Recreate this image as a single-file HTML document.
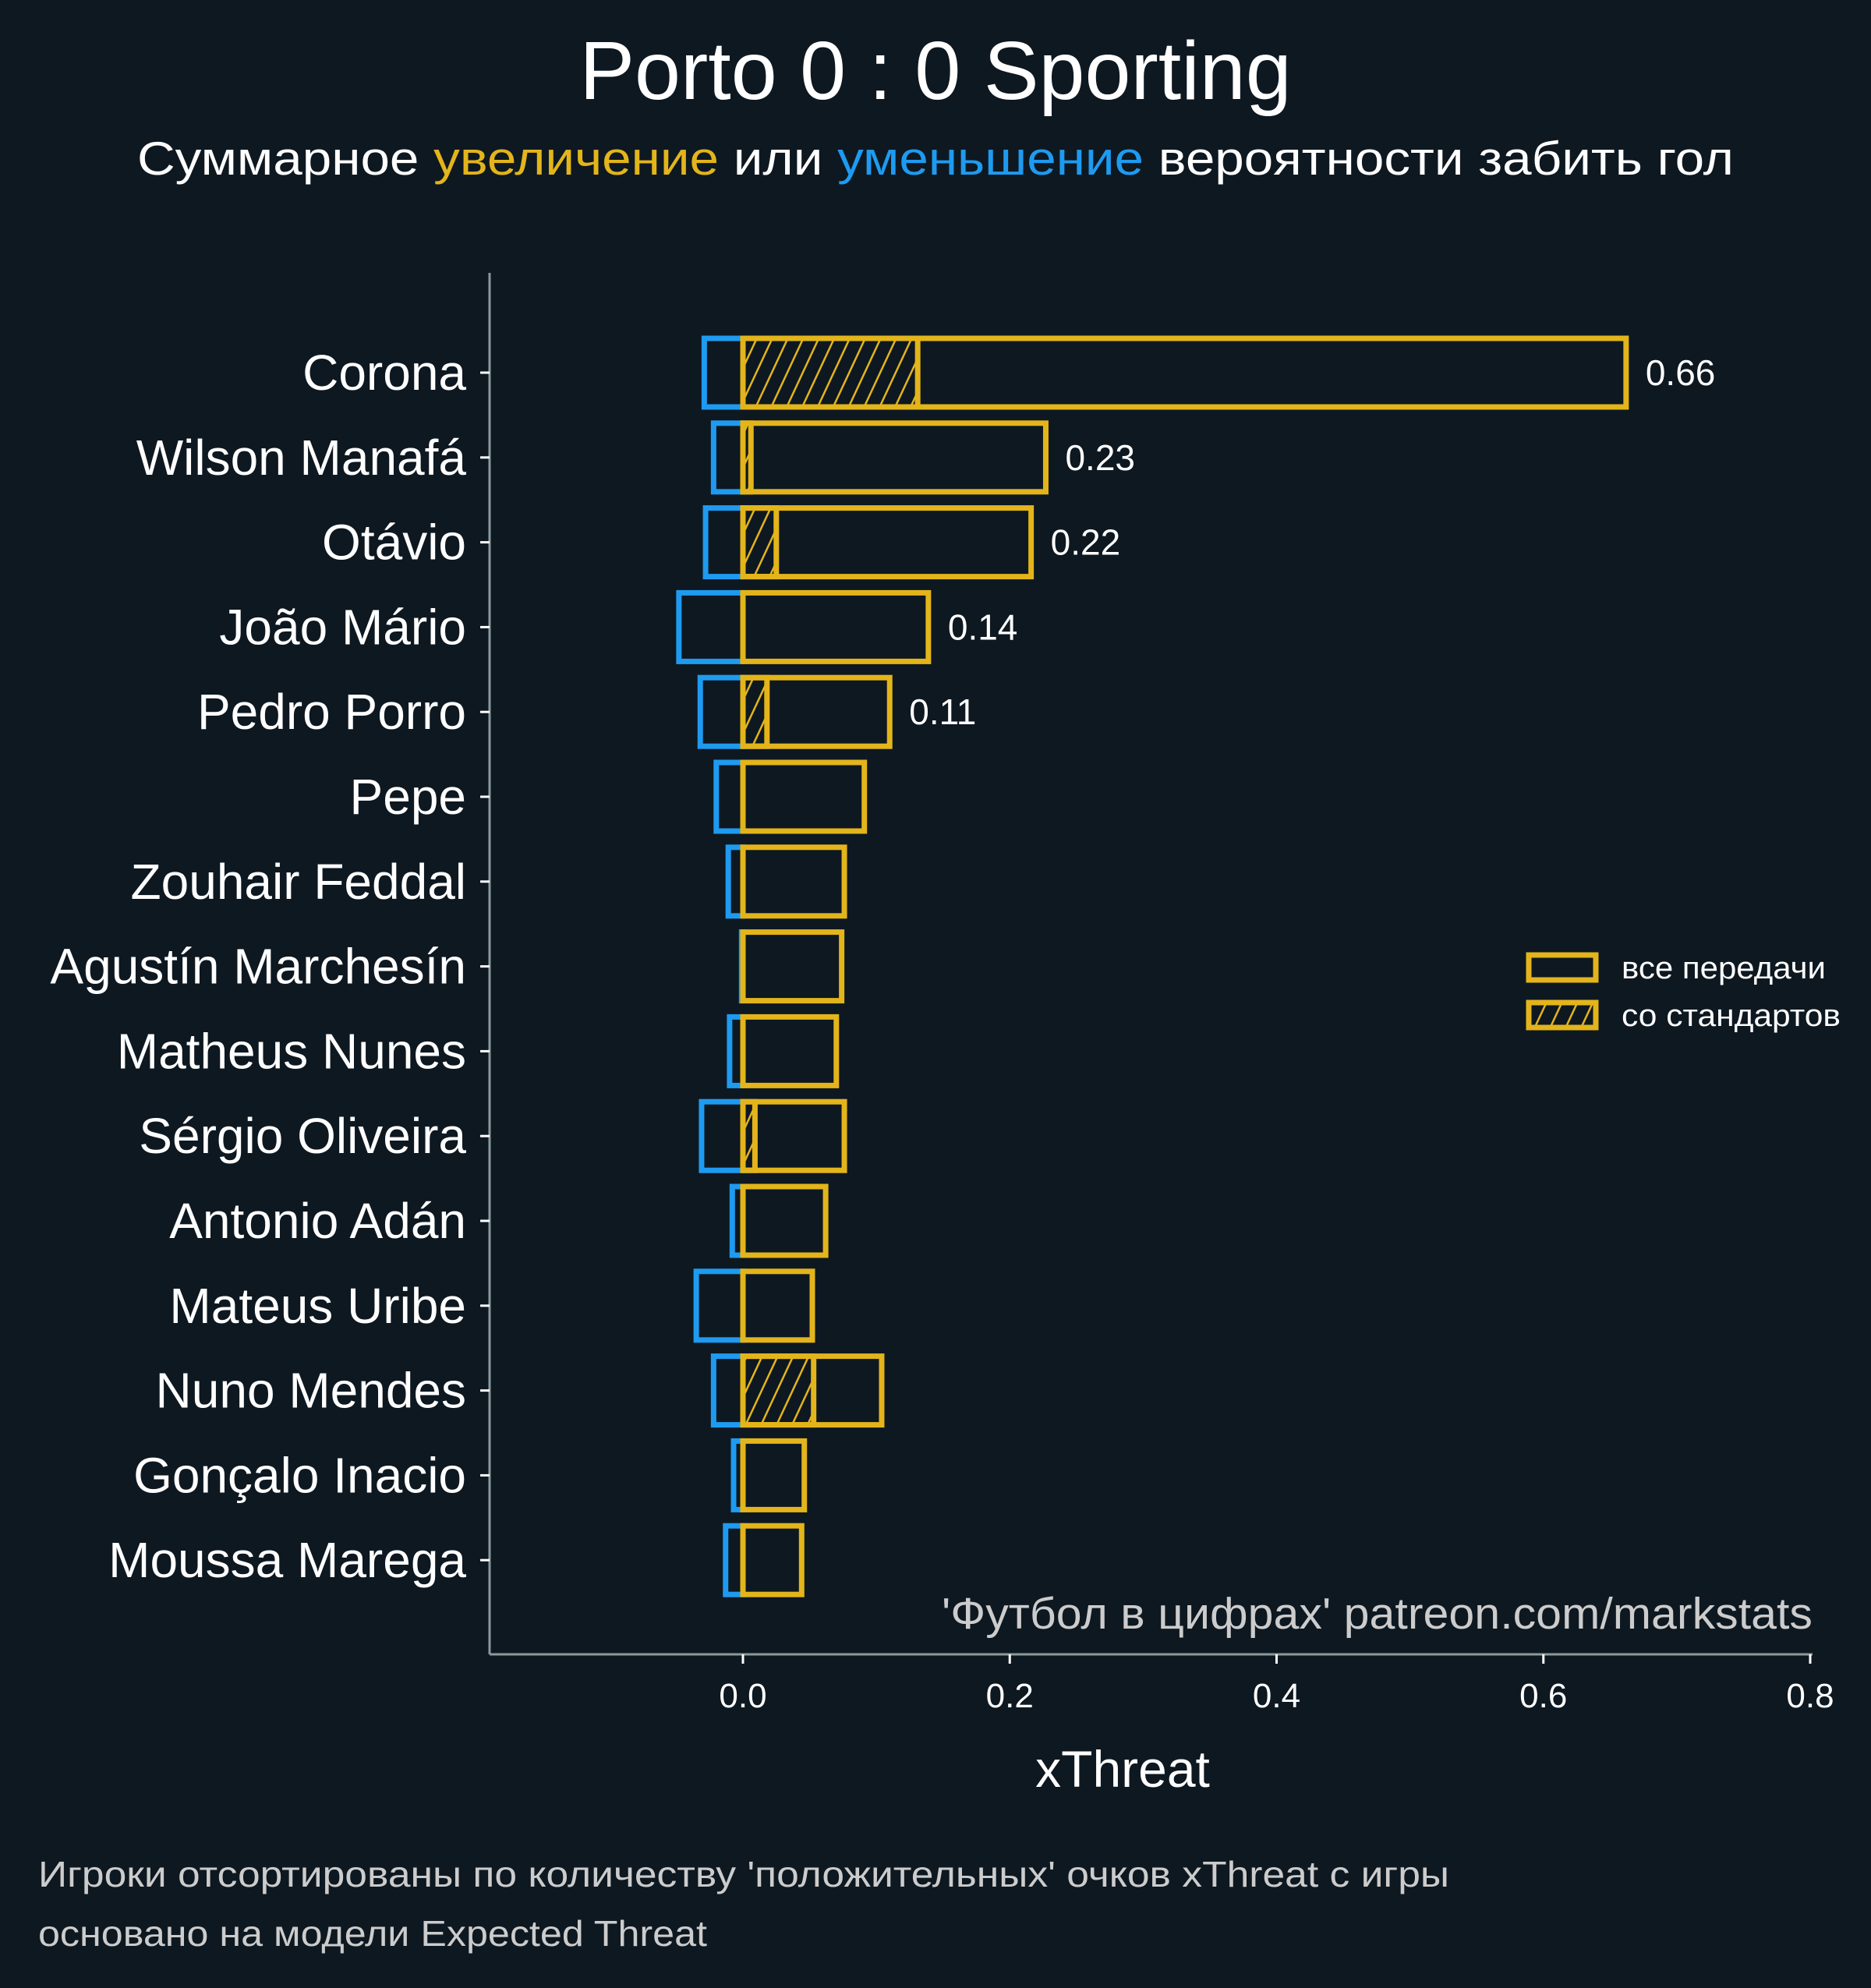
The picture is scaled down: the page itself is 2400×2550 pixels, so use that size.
<!DOCTYPE html>
<html><head><meta charset="utf-8">
<style>
html,body{margin:0;padding:0;background:#0e1821;}
svg{display:block;font-family:"Liberation Sans","DejaVu Sans",sans-serif;}
</style></head>
<body>
<svg id="chart" width="2400" height="2550" viewBox="0 0 2400 2550" xmlns="http://www.w3.org/2000/svg">
<defs>
<pattern id="hatch" patternUnits="userSpaceOnUse" width="18" height="18" patternTransform="rotate(25)">
<rect width="18" height="18" fill="#0e1821"/>
<line x1="0" y1="0" x2="0" y2="18" stroke="#e3b51b" stroke-width="5"/>
</pattern>
</defs>
<rect x="0" y="0" width="2400" height="2550" fill="#0e1821"/>
<text x="1200" y="127" text-anchor="middle" font-size="106" fill="#ffffff">Porto 0 : 0 Sporting</text>
<text x="1200" y="224" text-anchor="middle" font-size="60" fill="#ffffff" textLength="2048" lengthAdjust="spacingAndGlyphs">Суммарное <tspan fill="#e3b51b">увеличение</tspan> или <tspan fill="#1e9bf0">уменьшение</tspan> вероятности забить гол</text>
<g id="plot"></g>
<text x="2325" y="2089" text-anchor="end" font-size="57" fill="#cccccc" textLength="1117" lengthAdjust="spacingAndGlyphs">'Футбол в цифрах' patreon.com/markstats</text>
<text x="1440" y="2292" text-anchor="middle" font-size="66" fill="#ffffff">xThreat</text>
<g>
<rect x="1961" y="1225" width="86" height="32" fill="none" stroke="#e3b51b" stroke-width="7"/>
<text x="2080" y="1255" font-size="40" fill="#ffffff" textLength="262" lengthAdjust="spacingAndGlyphs">все передачи</text>
<rect x="1961" y="1286" width="86" height="32" fill="url(#hatch)" stroke="#e3b51b" stroke-width="7"/>
<text x="2080" y="1316" font-size="40" fill="#ffffff" textLength="281" lengthAdjust="spacingAndGlyphs">со стандартов</text>
</g>
<text x="49" y="2420" font-size="46" fill="#cccccc" textLength="1810" lengthAdjust="spacingAndGlyphs">Игроки отсортированы по количеству 'положительных' очков xThreat с игры</text>
<text x="49" y="2496" font-size="46" fill="#cccccc" textLength="858" lengthAdjust="spacingAndGlyphs">основано на модели Expected Threat</text>
</svg>
<script>
const players = ["Corona","Wilson Manafá","Otávio","João Mário","Pedro Porro","Pepe","Zouhair Feddal","Agustín Marchesín","Matheus Nunes","Sérgio Oliveira","Antonio Adán","Mateus Uribe","Nuno Mendes","Gonçalo Inacio","Moussa Marega"];
const positive = [0.662,0.227,0.216,0.139,0.110,0.091,0.076,0.074,0.070,0.076,0.062,0.052,0.104,0.046,0.044];
const setPiece = [0.131,0.006,0.025,0,0.018,0,0,0,0,0.009,0,0,0.053,0,0];
const negative = [-0.029,-0.022,-0.028,-0.048,-0.032,-0.020,-0.011,-0.001,-0.010,-0.031,-0.008,-0.035,-0.022,-0.007,-0.013];
const labeledCount = 5;
const xTicks = [0.0,0.2,0.4,0.6,0.8];
const xTickLabels = ["0.0","0.2","0.4","0.6","0.8"];

(function(){
const NS = "http://www.w3.org/2000/svg";
const g = document.getElementById("plot");
const X0 = 953, XS = 1711.25;
const xs = v => X0 + v * XS;
const Y0 = 478, YS = 108.8, BH = 88;
const ys = i => Y0 + i * YS;
const pLeft = 628, pRight = 2325, pTop = 350, pBottom = 2122;

function mk(tag, attrs){ const e = document.createElementNS(NS, tag); for (const k in attrs) e.setAttribute(k, attrs[k]); g.appendChild(e); return e; }

const sp = mk("line",{x1:pLeft,y1:pTop,x2:pLeft,y2:pBottom,stroke:"#8a9a9a","stroke-width":3});


const sp2 = mk("line",{x1:pLeft,y1:pBottom,x2:pRight,y2:pBottom,stroke:"#8a9a9a","stroke-width":3});



xTicks.forEach((t,i)=>{
  const tk = mk("line",{x1:xs(t),y1:pBottom,x2:xs(t),y2:pBottom+12,stroke:"#ffffff","stroke-width":3});
  
  
  const tl = mk("text",{x:xs(t),y:2190,"text-anchor":"middle","font-size":44,fill:"#ffffff"});
  tl.textContent = xTickLabels[i];
  
  
});

players.forEach((p,i)=>{
  const cy = ys(i), y = cy - BH/2;
  const tk = mk("line",{x1:pLeft-12,y1:cy,x2:pLeft,y2:cy,stroke:"#ffffff","stroke-width":3});
  
  
  const lb = mk("text",{x:598,y:cy+22,"text-anchor":"end","font-size":64,fill:"#ffffff"});
  lb.textContent = p;
  
  
  if (negative[i] < 0) {
    const b = mk("rect",{x:xs(negative[i]),y:y,width:xs(0)-xs(negative[i]),height:BH,fill:"none",stroke:"#1e9bf0","stroke-width":7});
    
    
  }
  if (setPiece[i] > 0) {
    const h = mk("rect",{x:xs(0),y:y,width:xs(setPiece[i])-xs(0),height:BH,fill:"url(#hatch)",stroke:"#e3b51b","stroke-width":7});
    
    
  }
  const b2 = mk("rect",{x:xs(0),y:y,width:xs(positive[i])-xs(0),height:BH,fill:"none",stroke:"#e3b51b","stroke-width":7});
  
  
  if (i < labeledCount) {
    const v = mk("text",{x:xs(positive[i])+25,y:cy+16,"font-size":46,fill:"#ffffff"});
    v.textContent = positive[i].toFixed(2);
    
    
  }
});
})();
</script>
</body></html>
